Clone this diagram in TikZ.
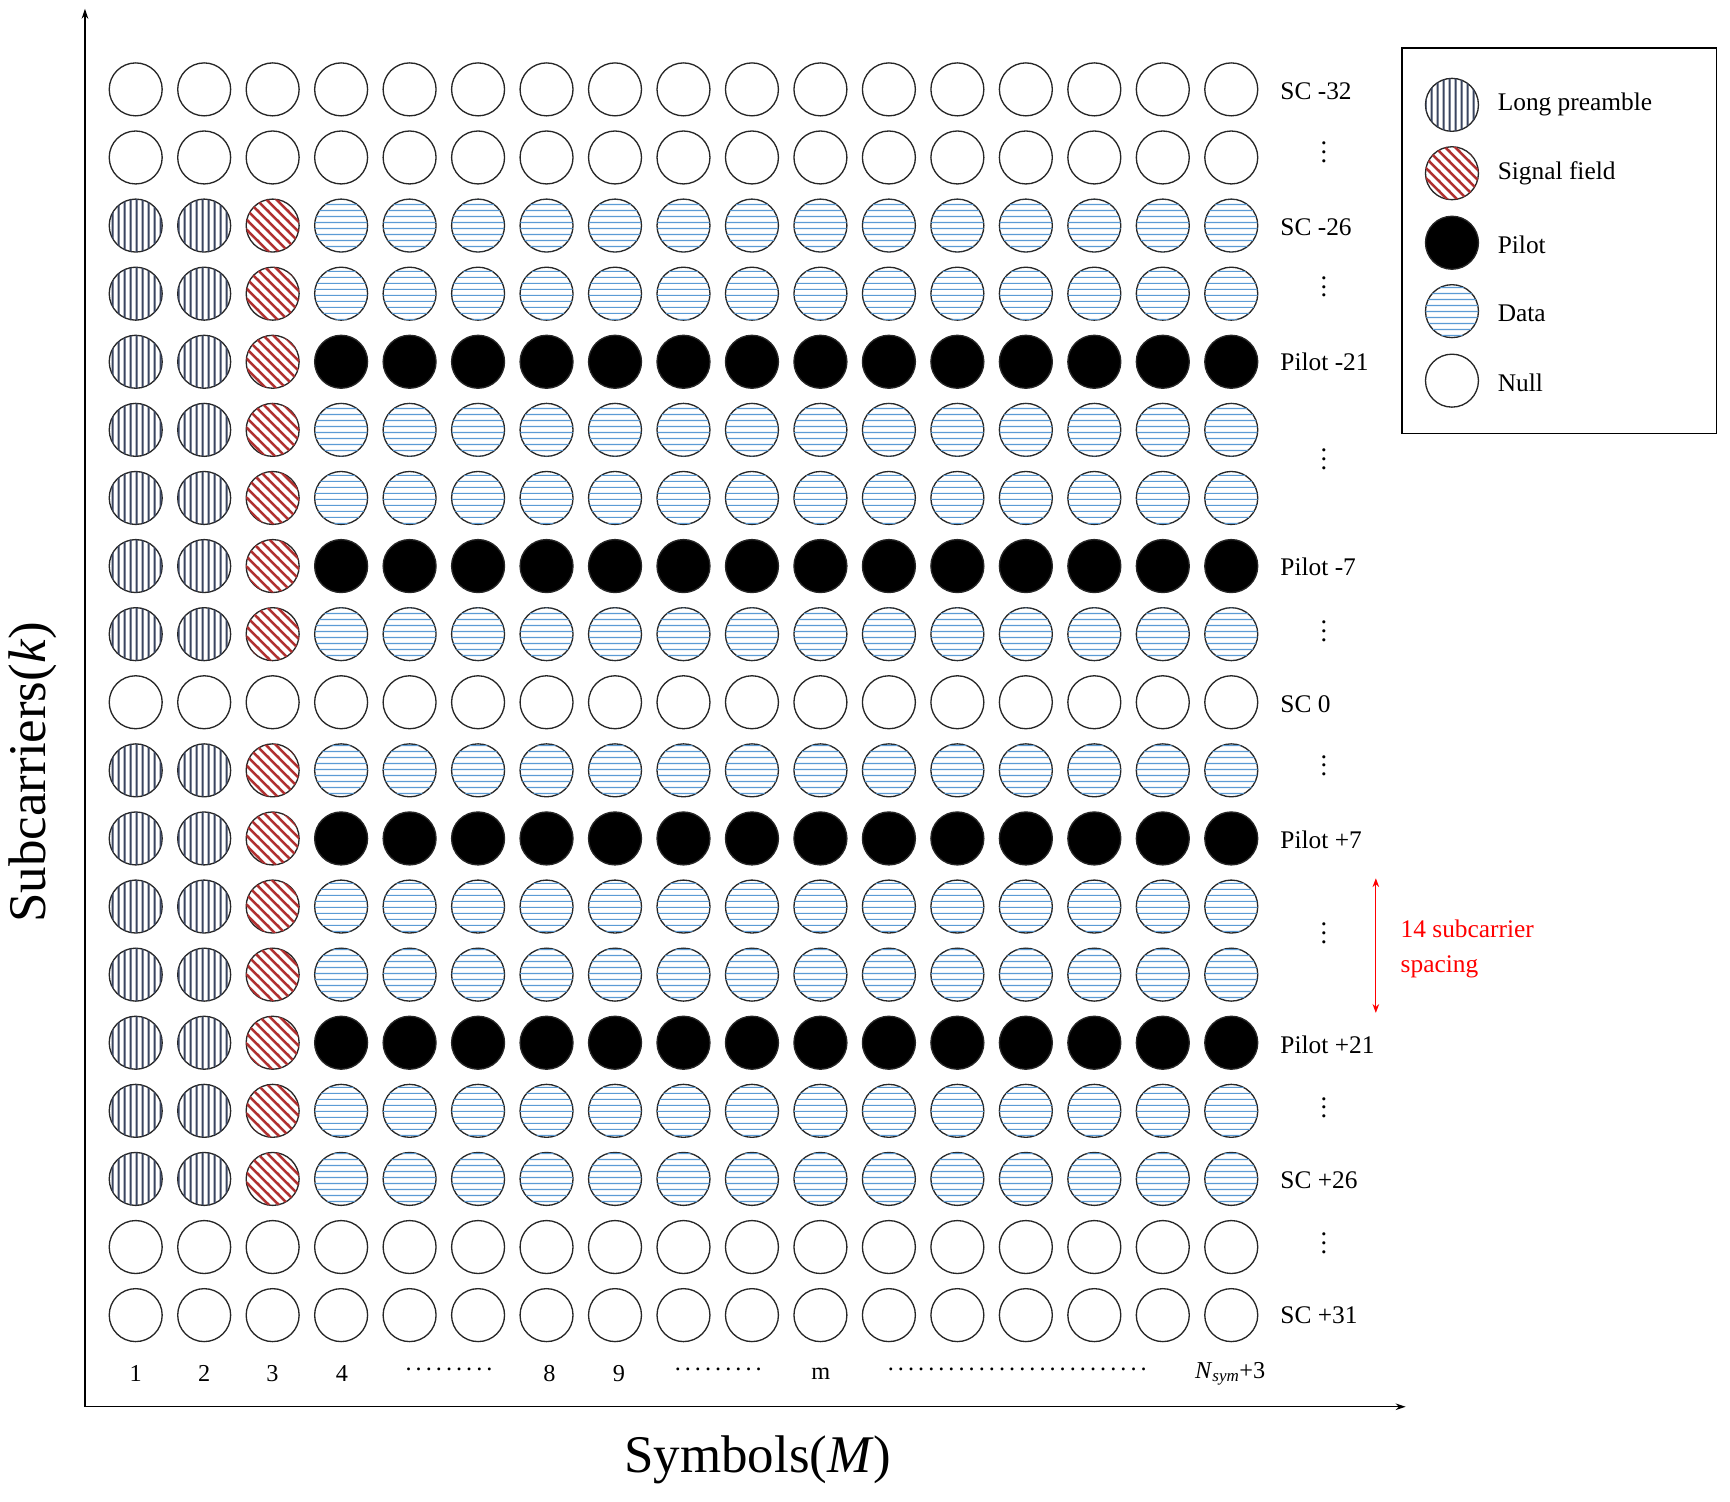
\documentclass[tikz,border=0pt]{standalone}
\usepackage{fontspec}
\setmainfont{Liberation Serif}
\usetikzlibrary{patterns.meta,arrows.meta}
\definecolor{navy}{HTML}{3A4560}
\definecolor{sred}{HTML}{B03030}
\definecolor{dblue}{HTML}{5B9BD5}
\tikzdeclarepattern{name=vl,type=uncolored,bottom left={(0pt,0pt)},top right={(5pt,5pt)},tile size={(5pt,5pt)},
  code={\draw[line width=2pt] (2.5pt,-1pt)--(2.5pt,6pt);}}
\tikzdeclarepattern{name=hl,type=uncolored,bottom left={(0pt,0pt)},top right={(5pt,5pt)},tile size={(5pt,5pt)},
  code={\draw[line width=1.1pt] (-1pt,2.5pt)--(6pt,2.5pt);}}
\tikzdeclarepattern{name=dl,type=uncolored,bottom left={(0pt,0pt)},top right={(9pt,9pt)},tile size={(9pt,9pt)},
  code={\draw[line width=2.3pt] (-2pt,11pt)--(11pt,-2pt); \draw[line width=2.3pt] (-2pt,2pt)--(2pt,-2pt); \draw[line width=2.3pt] (7pt,11pt)--(11pt,7pt);}}
\tikzset{
  cc/.style={circle,draw=black!85,line width=1.2pt,minimum size=48pt,inner sep=0pt,fill=white},
  nl/.style={cc},
  lp/.style={cc,postaction={pattern=vl,pattern color=navy}},
  sg/.style={cc,postaction={pattern=dl,pattern color=sred}},
  da/.style={cc,postaction={pattern=hl,pattern color=dblue}},
  pi/.style={cc,fill=black},
  lab/.style={anchor=west,font=\fontsize{23}{25}\selectfont},
  bl/.style={font=\fontsize{22}{24}\selectfont},
  vd/.style={align=center,inner sep=0pt,font=\fontsize{24}{8}\selectfont},
}
\begin{document}
\begin{tikzpicture}[x=1pt,y=-1pt]
\useasboundingbox (0,0) rectangle (1568,1361);
% axes
\coordinate (o) at (77,1275);
\coordinate (ytop) at (77,8);
\coordinate (xend) at (1274,1275);
\draw[line width=1.3pt,-{Stealth[length=9pt,width=6pt]}] (o)--(ytop);
\draw[line width=1.3pt,-{Stealth[length=9pt,width=6pt]}] (o)--(xend);
\node[rotate=90,font=\fontsize{48}{50}\selectfont] (yl) at (30,700) {Subcarriers(\textit{k})};
\node[font=\fontsize{48}{50}\selectfont] (xl) at (687,1323) {Symbols(\textit{M})};
% grid
\foreach \r/\t in {1/n,2/n,3/d,4/d,5/p,6/d,7/d,8/p,9/d,10/n,11/d,12/p,13/d,14/d,15/p,16/d,17/d,18/n,19/n}{
  \foreach \c in {1,...,17}{
    \pgfmathsetmacro{\xx}{123+(\c-1)*62.06}
    \pgfmathsetmacro{\yy}{81+(\r-1)*61.72}
    \def\st{nl}
    \if\t d\ifnum\c<3 \def\st{lp}\else\ifnum\c=3 \def\st{sg}\else\def\st{da}\fi\fi\fi
    \if\t p\ifnum\c<3 \def\st{lp}\else\ifnum\c=3 \def\st{sg}\else\def\st{pi}\fi\fi\fi
    \node[\st] (c-\r-\c) at (\xx,\yy) {};
  }
}
% right labels
\node[lab] (l1) at (1157,83) {SC -32};
\node[lab] (l3) at (1157,206) {SC -26};
\node[lab] (l5) at (1157,328) {Pilot -21};
\node[lab] (l8) at (1157,514) {Pilot -7};
\node[lab] (l10) at (1157,638) {SC 0};
\node[lab] (l12) at (1157,761) {Pilot +7};
\node[lab] (l15) at (1157,947) {Pilot +21};
\node[lab] (l17) at (1157,1070) {SC +26};
\node[lab] (l19) at (1157,1192) {SC +31};
\foreach \y [count=\i] in {138,260,416,572,694,846,1004,1127}{
  \node[vd] (v\i) at (1200,\y) {.\\.\\.};
}
% red arrow
\coordinate (at) at (1247,796);
\coordinate (ab) at (1247,918);
\draw[red,line width=1pt,{Stealth[length=8pt,width=6pt]}-{Stealth[length=8pt,width=6pt]}] (at)--(ab);
\node[anchor=west,red,align=left,font=\fontsize{23}{32}\selectfont] (sp) at (1266,860) {14 subcarrier\\spacing};
% bottom labels
\foreach \x/\t [count=\i] in {123/1,185/2,247/3,310/4,498/8,561/9,744/m}{
  \node[bl] (b\i) at (\x,1245) {\t};
}
\node[bl] (d1) at (407,1241) {.\,.\,.\,.\,.\,.\,.\,.\,.};
\node[bl] (d2) at (651,1241) {.\,.\,.\,.\,.\,.\,.\,.\,.};
\node[bl] (d3) at (922,1241) {.\,.\,.\,.\,.\,.\,.\,.\,.\,.\,.\,.\,.\,.\,.\,.\,.\,.\,.\,.\,.\,.\,.\,.\,.\,.};
\node[bl] (bn) at (1115,1245) {\textit{N}\textsubscript{\textit{sym}}+3};
% legend
\node[draw,line width=1.2pt,minimum width=285pt,minimum height=349pt,anchor=north west,inner sep=0pt] (leg) at (1270,43) {};
\node[lp] (g1) at (1316,95) {}; \node[lab] at (1354,95) {Long preamble};
\node[sg] (g2) at (1316,157) {}; \node[lab] at (1354,157) {Signal field};
\node[pi] (g3) at (1316,220) {}; \node[lab] at (1354,222) {Pilot};
\node[da] (g4) at (1316,282) {}; \node[lab] at (1354,284) {Data};
\node[nl] (g5) at (1316,345) {}; \node[lab] at (1354,347) {Null};
\end{tikzpicture}
\end{document}
